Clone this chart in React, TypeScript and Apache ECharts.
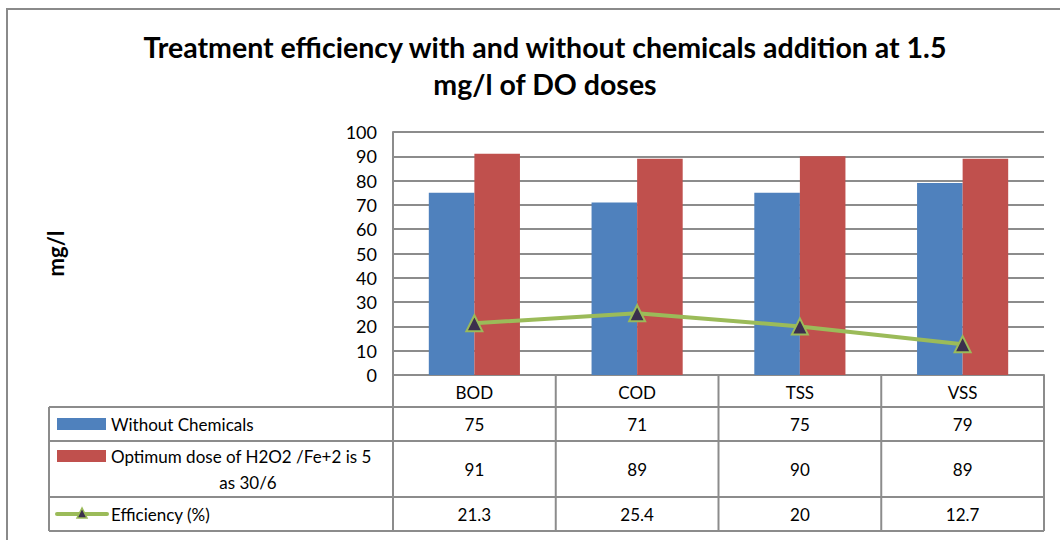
import React, { useEffect, useRef } from "react";
import * as echarts from "echarts";

const categories = ["BOD", "COD", "TSS", "VSS"];
const withoutChemicals = [75, 71, 75, 79];
const optimumDose = [91, 89, 90, 89];
const efficiency = [21.3, 25.4, 20, 12.7];
const seriesNames = ["Without Chemicals", "Optimum dose of H2O2 /Fe+2 is 5 as 30/6", "Efficiency (%)"];
const titleText = "Treatment efficiency with and without chemicals addition at 1.5\nmg/l of DO doses";
const yAxisName = "mg/l";

const FONT = "Lato, 'Open Sans', sans-serif";
const BLUE = "#4f81bd";
const RED = "#c0504d";
const GREEN = "#9bbb59";
const GRID_COLOR = "#8c8c8c";

const PLOT_L = 393;
const PLOT_R = 1044;
const PLOT_T = 132;
const PLOT_B = 375;
const TABLE_L = 49;
const ROWS = [407, 441, 497, 531];
const TFS = 17;

export default function App() {
  const ref = useRef<HTMLDivElement>(null);
  useEffect(() => {
    if (!ref.current) return;
    const chart = echarts.init(ref.current, null, { renderer: "svg" });
    const catW = (PLOT_R - PLOT_L) / categories.length;
    const lineStyle = { stroke: GRID_COLOR, lineWidth: 2 };
    const graphics: any[] = [];
    graphics.push({ type: "rect", shape: { x: 7, y: 9, width: 1070, height: 560 }, style: { fill: "none", stroke: "#8a8a8a", lineWidth: 2 }, silent: true });
    ROWS.forEach((y) => {
      graphics.push({ type: "line", shape: { x1: TABLE_L, y1: y, x2: PLOT_R, y2: y }, style: lineStyle });
    });
    graphics.push({ type: "line", shape: { x1: TABLE_L, y1: ROWS[0], x2: TABLE_L, y2: ROWS[3] }, style: lineStyle });
    for (let i = 0; i <= categories.length; i++) {
      const x = PLOT_L + i * catW;
      graphics.push({ type: "line", shape: { x1: x, y1: PLOT_B, x2: x, y2: ROWS[3] }, style: lineStyle });
    }
    const rowsData = [withoutChemicals, optimumDose, efficiency];
    const rowCenters = [(PLOT_B + ROWS[0]) / 2, (ROWS[0] + ROWS[1]) / 2, (ROWS[1] + ROWS[2]) / 2, (ROWS[2] + ROWS[3]) / 2];
    const font = `${TFS}px ${FONT}`;
    rowsData.forEach((arr, r) => {
      arr.forEach((v, i) => {
        graphics.push({
          type: "text",
          x: PLOT_L + (i + 0.5) * catW,
          y: rowCenters[r + 1],
          style: { text: String(v), font, fill: "#000", align: "center", verticalAlign: "middle" },
        });
      });
    });
    graphics.push({ type: "rect", shape: { x: 57, y: 418, width: 49, height: 12 }, style: { fill: BLUE } });
    graphics.push({ type: "text", x: 111, y: rowCenters[1], style: { text: seriesNames[0], font, fill: "#000", verticalAlign: "middle" } });
    graphics.push({ type: "rect", shape: { x: 57, y: 450, width: 49, height: 12 }, style: { fill: RED } });
    graphics.push({ type: "text", x: 111, y: 456, style: { text: "Optimum dose of H2O2 /Fe+2 is 5", font, fill: "#000", verticalAlign: "middle" } });
    graphics.push({ type: "text", x: 248, y: 482, style: { text: "as 30/6", font, fill: "#000", align: "center", verticalAlign: "middle" } });
    graphics.push({ type: "line", shape: { x1: 57, y1: rowCenters[3], x2: 107, y2: rowCenters[3] }, style: { stroke: GREEN, lineWidth: 4, lineCap: "round" } });
    graphics.push({ type: "polygon", shape: { points: [[82, rowCenters[3] - 6], [77, rowCenters[3] + 4], [87, rowCenters[3] + 4]] }, style: { fill: "#3b2f4d", stroke: GREEN, lineWidth: 1.5 } });
    graphics.push({ type: "text", x: 111, y: rowCenters[3], style: { text: seriesNames[2], font, fill: "#000", verticalAlign: "middle" } });

    chart.setOption({
      animation: false,
      title: {
        text: titleText,
        left: 540,
        textAlign: "center",
        top: 23,
        textStyle: { fontFamily: FONT, fontSize: 28.5, fontWeight: "bold", color: "#000", lineHeight: 37 },
      },
      grid: { left: PLOT_L, right: 1060 - PLOT_R, top: PLOT_T, bottom: 540 - PLOT_B },
      xAxis: {
        type: "category",
        data: categories,
        axisLine: { lineStyle: { color: GRID_COLOR, width: 2 } },
        axisTick: { show: false },
        axisLabel: { color: "#000", fontFamily: FONT, fontSize: TFS, margin: 9 },
      },
      yAxis: {
        type: "value",
        min: 0,
        max: 100,
        interval: 10,
        name: yAxisName,
        nameLocation: "middle",
        nameGap: 327,
        nameRotate: 90,
        nameTextStyle: { color: "#000", fontFamily: FONT, fontSize: 22, fontWeight: "bold" },
        axisLine: { show: true, lineStyle: { color: GRID_COLOR, width: 2 } },
        axisTick: { show: false },
        splitLine: { lineStyle: { color: GRID_COLOR, width: 2 } },
        axisLabel: { color: "#000", fontFamily: FONT, fontSize: 18, margin: 16 },
      },
      series: [
        { name: seriesNames[0], type: "bar", data: withoutChemicals, itemStyle: { color: BLUE }, barGap: "0%", barCategoryGap: "44%" },
        { name: seriesNames[1], type: "bar", data: optimumDose, itemStyle: { color: RED }, barGap: "0%", barCategoryGap: "44%" },
        {
          name: seriesNames[2],
          type: "line",
          data: efficiency,
          symbol: "triangle",
          symbolSize: 16,
          z: 5,
          lineStyle: { color: GREEN, width: 4 },
          itemStyle: { color: "#3b2f4d", borderColor: GREEN, borderWidth: 2 },
        },
      ],
      graphic: graphics,
    });
    return () => chart.dispose();
  }, []);
  return <div ref={ref} style={{ position: "fixed", left: 0, top: 0, width: 1060, height: 540, background: "#fff" }} />;
}
